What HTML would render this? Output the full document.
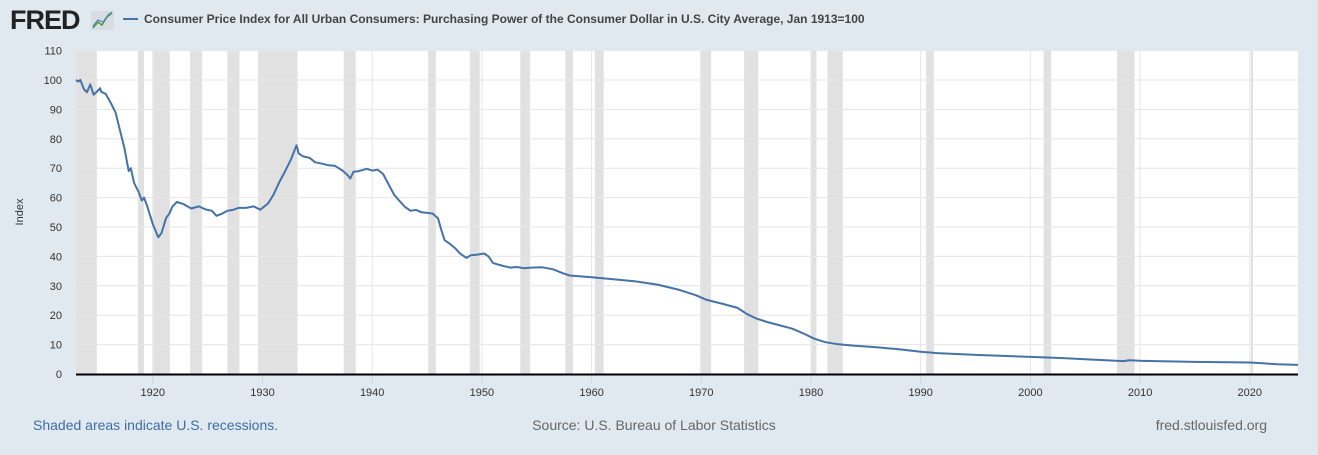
<!DOCTYPE html>
<html><head><meta charset="utf-8"><style>
body{margin:0;width:1318px;height:450px;background:#e1e9f0;overflow:hidden;font-family:"Liberation Sans",Arial,sans-serif;}
</style></head><body>
<svg id="s" width="1318" height="450" xmlns="http://www.w3.org/2000/svg" font-family="Liberation Sans, Arial, sans-serif">
<rect x="0" y="0" width="1318" height="450" fill="#e1e9f0"/>
<text x="10" y="29" font-size="27" font-weight="bold" fill="#222" letter-spacing="-1">FRED</text>
<rect x="91" y="11" width="23" height="19" fill="#d8dde2"/>
<polyline points="93,28 98,22 102,25 107,17 112,13" fill="none" stroke="#4a9a4a" stroke-width="1.5"/>
<polyline points="93,26 98,20 103,22 108,15 112,12" fill="none" stroke="#5588bb" stroke-width="1.2"/>
<line x1="123" y1="19" x2="138" y2="19" stroke="#4572a7" stroke-width="2"/>
<text x="144" y="23" font-size="12" font-weight="bold" fill="#444">Consumer Price Index for All Urban Consumers: Purchasing Power of the Consumer Dollar in U.S. City Average, Jan 1913=100</text>
<rect x="76" y="50" width="1222" height="324" fill="#fff"/>
<g id="rec" fill="#e1e1e1"></g>
<g id="grid" stroke="#e6e6e6" stroke-width="1"></g>
<g id="labs" font-size="11" fill="#333"></g>
<text transform="translate(23,212) rotate(-90)" text-anchor="middle" font-size="11" fill="#333">Index</text>
<polyline id="ln" fill="none" stroke="#4572a7" stroke-width="2" stroke-linejoin="round"/>
<line x1="76" y1="374.5" x2="1298" y2="374.5" stroke="#000" stroke-width="2"/>
<text x="33" y="430" font-size="14" fill="#3e6ca8">Shaded areas indicate U.S. recessions.</text>
<text x="654" y="430" font-size="14" fill="#666" text-anchor="middle">Source: U.S. Bureau of Labor Statistics</text>
<text x="1267" y="430" font-size="14" fill="#666" text-anchor="end">fred.stlouisfed.org</text>
</svg>
<script>
var NS="http://www.w3.org/2000/svg";
function X(t){return 76+(t-1913)*10.97}
function Y(v){return 374-2.94*v}
function el(p,n,a,txt){var e=document.createElementNS(NS,n);for(var k in a)e.setAttribute(k,a[k]);if(txt)e.textContent=txt;document.getElementById(p).appendChild(e);}
var rec=[[1913,1914.9],[1918.65,1919.2],[1920.05,1921.55],[1923.4,1924.5],[1926.8,1927.9],[1929.6,1933.2],[1937.4,1938.5],[1945.1,1945.8],[1948.9,1949.8],[1953.5,1954.4],[1957.6,1958.3],[1960.3,1961.1],[1969.9,1970.9],[1973.9,1975.2],[1980.0,1980.5],[1981.5,1982.9],[1990.5,1991.2],[2001.2,2001.9],[2007.9,2009.5],[2020.1,2020.3]];
rec.forEach(function(r){el("rec","rect",{x:X(r[0]),y:50,width:X(r[1])-X(r[0]),height:324});});
for(var v=10;v<=110;v+=10){var y=Y(v);el("grid","line",{x1:76,x2:1298,y1:y,y2:y});}
for(var v=0;v<=110;v+=10){el("labs","text",{x:62,y:Y(v)+4,"text-anchor":"end"},String(v));}
for(var t=1920;t<=2020;t+=10){var x=X(t);el("grid","line",{x1:x,x2:x,y1:50,y2:374});el("labs","line",{x1:x,x2:x,y1:375,y2:384,stroke:"#ccd6eb"});el("labs","text",{x:x,y:396,"text-anchor":"middle"},String(t));}
var d=[[1913,100],[1913.2,99.5],[1913.4,100],[1913.7,97],[1914,95.8],[1914.3,98.5],[1914.6,95],[1914.9,96],[1915.2,97.2],[1915.3,96],[1915.7,95.3],[1916.2,92],[1916.6,89],[1917,83],[1917.4,77],[1917.8,69],[1918,70],[1918.3,65],[1918.7,62],[1919,59],[1919.2,60],[1919.5,57],[1920,51],[1920.5,46.5],[1920.8,48],[1921.2,53],[1921.5,54.5],[1921.8,57],[1922.2,58.5],[1922.8,57.8],[1923.5,56.3],[1924.2,57],[1924.8,56],[1925.4,55.5],[1925.8,53.8],[1926.3,54.5],[1926.8,55.5],[1927.3,55.8],[1927.8,56.5],[1928.5,56.5],[1929.2,57],[1929.8,55.9],[1930.5,58],[1931,61],[1931.5,65],[1932,68.5],[1932.6,73],[1933.1,77.8],[1933.3,75],[1933.7,74],[1934.3,73.5],[1934.8,72],[1935.5,71.5],[1936,71],[1936.6,70.8],[1937.3,69.2],[1937.8,67.5],[1938,66.5],[1938.3,68.8],[1938.8,69],[1939.5,69.8],[1940,69.2],[1940.5,69.5],[1941,68],[1941.5,64.5],[1942,61],[1942.5,58.8],[1943,56.8],[1943.5,55.5],[1944,55.8],[1944.5,55],[1945,54.8],[1945.5,54.6],[1946,53],[1946.3,49],[1946.6,45.5],[1947,44.5],[1947.5,43],[1948,41],[1948.6,39.5],[1949,40.4],[1949.6,40.6],[1950.2,41],[1950.6,40],[1951,37.8],[1951.6,37.1],[1952,36.7],[1952.6,36.2],[1953.2,36.4],[1953.8,36],[1954.5,36.2],[1955.5,36.3],[1956.5,35.6],[1957.3,34.4],[1958,33.5],[1959,33.2],[1960,32.9],[1962,32.2],[1964,31.5],[1966,30.4],[1968,28.6],[1969.5,26.8],[1970.5,25.2],[1972,23.8],[1973.3,22.5],[1974.2,20.3],[1975,18.9],[1976,17.7],[1977,16.7],[1978.3,15.4],[1979.3,13.8],[1980.3,12],[1981.3,10.8],[1982.5,10.1],[1984,9.6],[1986,9.1],[1988,8.4],[1990,7.6],[1991.5,7.1],[1995,6.5],[2000,5.8],[2003,5.4],[2005,5.0],[2008.5,4.4],[2009,4.65],[2010,4.5],[2015,4.1],[2020,3.9],[2021,3.7],[2022.5,3.3],[2024.4,3.1]];
document.getElementById("ln").setAttribute("points",d.map(function(p){return X(p[0]).toFixed(1)+","+Y(p[1]).toFixed(1)}).join(" "));
</script>
</body></html>
